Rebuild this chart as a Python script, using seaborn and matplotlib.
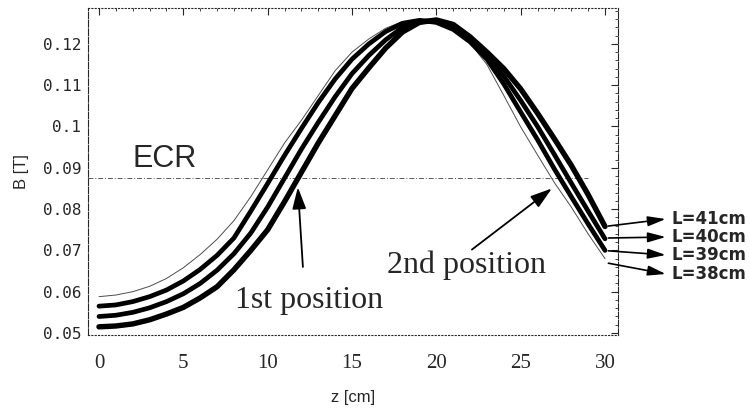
import numpy as np
import pandas as pd
import matplotlib
matplotlib.use("Agg")
import matplotlib.pyplot as plt
import seaborn as sns
from matplotlib.ticker import MultipleLocator, FixedLocator

# ---- data ----
z = list(range(0, 31))
B_L38 = [0.0588, 0.0592, 0.0600, 0.0613, 0.0632, 0.0658, 0.0690, 0.0727, 0.0772, 0.0830,
         0.0895, 0.0960, 0.1015, 0.1075, 0.1135, 0.1180, 0.1212, 0.1238, 0.1254, 0.1256,
         0.1250, 0.1236, 0.1202, 0.1150, 0.1075, 0.0999, 0.0931, 0.0864, 0.0805, 0.0740, 0.0680]
B_L39 = [0.0565, 0.0568, 0.0576, 0.0588, 0.0604, 0.0626, 0.0654, 0.0688, 0.0730, 0.0795,
         0.0862, 0.0930, 0.0995, 0.1058, 0.1115, 0.1163, 0.1200, 0.1230, 0.1250, 0.1257,
         0.1252, 0.1235, 0.1205, 0.1163, 0.1103, 0.1035, 0.0968, 0.0897, 0.0830, 0.0764, 0.0700]
B_L40 = [0.0540, 0.0543, 0.0550, 0.0561, 0.0576, 0.0595, 0.0620, 0.0652, 0.0692, 0.0742,
         0.0805, 0.0875, 0.0945, 0.1010, 0.1072, 0.1128, 0.1172, 0.1210, 0.1240, 0.1255,
         0.1256, 0.1242, 0.1212, 0.1172, 0.1122, 0.1063, 0.1000, 0.0932, 0.0863, 0.0795, 0.0728]
B_L41 = [0.0515, 0.0517, 0.0522, 0.0532, 0.0546, 0.0562, 0.0585, 0.0612, 0.0653, 0.0700,
         0.0750, 0.0818, 0.0889, 0.0960, 0.1026, 0.1092, 0.1142, 0.1190, 0.1229, 0.1252,
         0.1258, 0.1247, 0.1217, 0.1180, 0.1140, 0.1091, 0.1032, 0.0970, 0.0906, 0.0835, 0.0758]
series_names = ["L=38cm", "L=39cm", "L=40cm", "L=41cm"]
ecr_level = 0.0875
x_ticks = [0, 5, 10, 15, 20, 25, 30]
y_ticks = [0.05, 0.06, 0.07, 0.08, 0.09, 0.1, 0.11, 0.12]
y_tick_labels = ["0.05", "0.06", "0.07", "0.08", "0.09", "0.1", "0.11", "0.12"]

df = pd.DataFrame({
    "z": z * 4,
    "B": B_L38 + B_L39 + B_L40 + B_L41,
    "L": sum([[n] * len(z) for n in series_names], []),
})

sns.set_theme(style="white")
plt.rcParams["font.family"] = ["Liberation Sans", "DejaVu Sans"]

fig = plt.figure(figsize=(7.5, 4.12), dpi=100)
ax = fig.add_axes([88 / 750, (412 - 335) / 412, (618 - 88) / 750, (335 - 8) / 412])

widths = {"L=38cm": 0.7, "L=39cm": 3.4, "L=40cm": 3.4, "L=41cm": 3.9}
colors = {"L=38cm": "0.3", "L=39cm": "black", "L=40cm": "black", "L=41cm": "black"}
for name in series_names:
    sub = df[df["L"] == name]
    sns.lineplot(data=sub, x="z", y="B", ax=ax, color=colors[name],
                 linewidth=widths[name], legend=False, solid_capstyle="round",
                 solid_joinstyle="round")

ax.set_xlim(-0.65, 30.77)
ax.set_ylim(0.04952, 0.12869)

# ECR line
ax.plot([-0.65, 29.0], [ecr_level, ecr_level], color="0.35", lw=0.7,
        linestyle=(0, (5, 2, 1, 2)), zorder=1)
ax.text(1.96, 0.0902, "ECR", fontsize=22, family="Liberation Sans", va="baseline", ha="left")

# position annotations
serif = "Liberation Serif"
ax.text(8.06, 0.05605, "1st position", fontsize=23, family=serif, va="baseline", ha="left")
ax.text(17.07, 0.06453, "2nd position", fontsize=23, family=serif, va="baseline", ha="left")
arrow_kw = dict(arrowstyle="-|>,head_length=1.1,head_width=0.35", color="black", lw=1.3,
                shrinkA=0, shrinkB=0)
ax.annotate("", xy=(11.79, 0.0853), xytext=(12.09, 0.0660), arrowprops=arrow_kw)
ax.annotate("", xy=(26.85, 0.0850), xytext=(22.11, 0.0702), arrowprops=arrow_kw)

# right labels with arrows
label_y = [0.06429, 0.06889, 0.07324, 0.07760]
tail_y = [0.0669, 0.0699, 0.0730, 0.0759]
arrow_small = dict(arrowstyle="-|>,head_length=0.9,head_width=0.25", color="black", lw=1.2,
                   shrinkA=0, shrinkB=0)
for name, ly, ty in zip(series_names, label_y, tail_y):
    ax.annotate("", xy=(33.6, ly), xytext=(30.2, ty), arrowprops=arrow_small,
                annotation_clip=False)
    ax.text(33.97, ly, name, fontsize=12, family="DejaVu Sans", fontweight="bold",
            va="center", ha="left", clip_on=False)

# axes styling (Mathematica-like frame)
for side in ["left", "right"]:
    ax.spines[side].set_linestyle((0, (6, 1.5)))
for side in ["top", "bottom"]:
    ax.spines[side].set_linestyle((0, (1, 2)))
for side in ax.spines:
    ax.spines[side].set_color("0.15")
    ax.spines[side].set_linewidth(0.8)

ax.xaxis.set_major_locator(FixedLocator(x_ticks))
ax.xaxis.set_minor_locator(MultipleLocator(1))
ax.yaxis.set_major_locator(FixedLocator(y_ticks))
ax.yaxis.set_minor_locator(MultipleLocator(0.002))
ax.set_xticklabels([str(t) for t in x_ticks], family=serif, fontsize=15)
ax.set_yticklabels(y_tick_labels, family="DejaVu Sans Mono", fontsize=11.5)
ax.tick_params(which="both", direction="in", top=True, right=True, color="0.15")
ax.tick_params(which="major", length=5, width=0.8)
ax.tick_params(which="minor", length=2.5, width=0.6)
ax.tick_params(axis="x", which="major", pad=14)
ax.tick_params(axis="y", which="major", pad=5)

ax.set_xlabel("z [cm]", fontsize=12, labelpad=12)
ax.set_ylabel("B [T]", fontsize=12, labelpad=10)

fig.savefig("out.png", dpi=100)
